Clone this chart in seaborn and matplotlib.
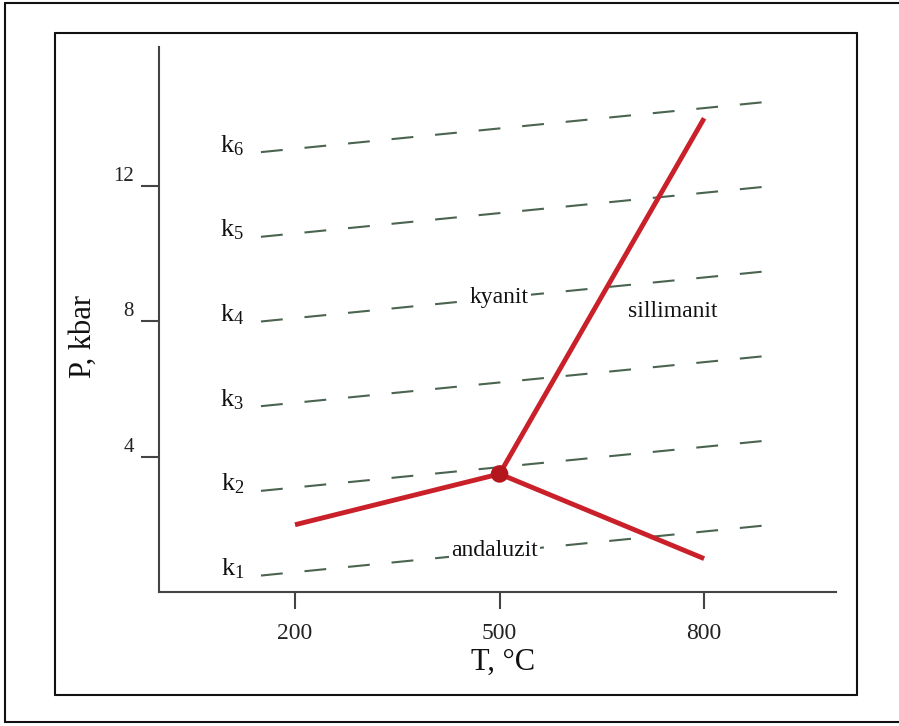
import numpy as np
import pandas as pd
import matplotlib
matplotlib.use("Agg")
import matplotlib.pyplot as plt
from matplotlib.lines import Line2D
import seaborn as sns

# ---- data ----
k_names = ["k1", "k2", "k3", "k4", "k5", "k6"]
k_T = [150, 900]
k_P_start = [0.5, 3.0, 5.5, 8.0, 10.5, 13.0]
k_P_end = [2.0, 4.5, 7.0, 9.5, 12.0, 14.5]

and_ky_T = [200, 500]
and_ky_P = [2.0, 3.5]
and_sil_T = [500, 800]
and_sil_P = [3.5, 1.0]
ky_sil_T = [500, 800]
ky_sil_P = [3.5, 14.0]
triple_T = [500]
triple_P = [3.5]

x_ticks = [200, 500, 800]
y_ticks = [4, 8, 12]

phase_names = ["kyanit", "sillimanit", "andaluzit"]
phase_T = [499, 754, 493]
phase_P = [8.54, 8.13, 1.08]

# ---- style ----
sns.set_style("white")
plt.rcParams["font.family"] = ["Liberation Serif", "DejaVu Serif"]
plt.rcParams["mathtext.fontset"] = "custom"
plt.rcParams["mathtext.rm"] = "Liberation Serif"
plt.rcParams["mathtext.it"] = "Liberation Serif:italic"

fig = plt.figure(figsize=(8.99, 7.26), dpi=100)
ax = fig.add_axes([0.1765, 0.1839, 0.7531, 0.7512])

dash_col = "#4a6450"
red = "#c9202a"

rows = []
for name, p0, p1 in zip(k_names, k_P_start, k_P_end):
    rows.append({"line": name, "T": k_T[0], "P": p0})
    rows.append({"line": name, "T": k_T[1], "P": p1})
kdf = pd.DataFrame(rows)
for name, sub in kdf.groupby("line"):
    sns.lineplot(data=sub, x="T", y="P", ax=ax, color=dash_col, lw=1.5,
                 linestyle=(0, (10.5, 10.5)), sort=False, estimator=None,
                 solid_capstyle="butt", dash_capstyle="butt")

for tt, pp in [(and_ky_T, and_ky_P), (and_sil_T, and_sil_P), (ky_sil_T, ky_sil_P)]:
    sns.lineplot(x=tt, y=pp, ax=ax, color=red, lw=3.5, sort=False,
                 estimator=None, solid_capstyle="butt")
sns.scatterplot(x=triple_T, y=triple_P, ax=ax, color="#b3161c", s=160,
                edgecolor="none", zorder=5)

# k labels
for i, p0 in enumerate(k_P_start):
    ax.annotate(r"$\mathrm{k}_{%d}$" % (i + 1), xy=(k_T[0], p0),
                xytext=(-12, 0), textcoords="offset points",
                ha="right", va="baseline", fontsize=19, color="#111111")

for name, tt, pp in zip(phase_names, phase_T, phase_P):
    ax.text(tt, pp, name, ha="center", va="baseline", fontsize=17,
            color="#111111",
            bbox=dict(facecolor="white", edgecolor="none", pad=1.5))

ax.set_xlim(0, 993)
ax.set_ylim(0, 16.1)
ax.set_xticks(x_ticks)
ax.set_yticks(y_ticks)
ax.set_xticklabels([str(v) for v in x_ticks], fontsize=17, color="#222222")
ax.set_yticklabels([str(v) for v in y_ticks], fontsize=15, color="#222222")
plt.setp(ax.get_yticklabels(), va="bottom")

ax.tick_params(axis="x", direction="out", length=12, width=1.5,
               color="#444444", pad=10, bottom=True)
ax.tick_params(axis="y", direction="out", length=13, width=1.5,
               color="#444444", pad=5, left=True)

for s in ["top", "right"]:
    ax.spines[s].set_visible(False)
for s in ["left", "bottom"]:
    ax.spines[s].set_color("#444444")
    ax.spines[s].set_linewidth(1.5)

ax.set_xlabel("T, °C", fontsize=22, va="center", color="#111111")
ax.xaxis.set_label_coords(0.508, -0.128)
ax.set_ylabel("P, kbar", fontsize=22, va="center", color="#111111")
ax.yaxis.set_label_coords(-0.112, 0.469)

# frames
W, H = 899, 726
def fl(x0, y0, x1, y1, lw=1.5):
    fig.add_artist(Line2D([x0 / W, x1 / W], [1 - y0 / H, 1 - y1 / H],
                          transform=fig.transFigure, color="#111111", lw=lw))
# inner frame
fl(55, 33, 857, 33)
fl(55, 33, 55, 695)
fl(857, 33, 857, 695)
fl(55, 695, 857, 695)
# outer frame
fl(5, 2.5, 899, 2.5)
fl(5, 2.5, 5, 722)
fl(5, 722, 899, 722)

fig.savefig("out.png", dpi=100)
